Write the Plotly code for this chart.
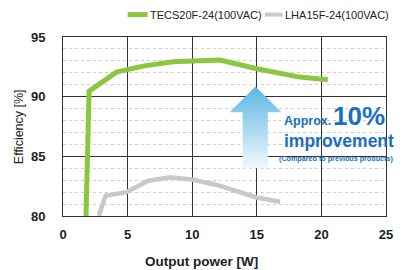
import plotly.graph_objects as go

# Data
tecs_x = [1.78, 2.02, 4.14, 6.2, 8.5, 12.15, 15.0, 18.3, 20.5]
tecs_y = [80.0, 90.46, 92.06, 92.56, 92.93, 93.07, 92.34, 91.64, 91.42]
lha_x = [2.77, 3.3, 4.9, 6.6, 8.3, 10.1, 11.9, 15.0, 16.8]
lha_y = [80.0, 81.7, 82.0, 82.96, 83.24, 83.04, 82.6, 81.55, 81.2]
series_names = ["TECS20F-24(100VAC)", "LHA15F-24(100VAC)"]
x_ticks = [0, 5, 10, 15, 20, 25]
y_ticks = [80, 85, 90, 95]

GREEN = "#8cc641"
GRAY = "#c8c8c8"
BLUE = "#1b6fc2"
CALLOUT_FONT = "Liberation Sans, Arial, sans-serif"

fig = go.Figure()

# decorative arrow (gradient)
arrow_x = [13.9, 13.9, 12.9, 14.9, 16.9, 15.85, 15.85, 13.9]
arrow_y = [84.0, 88.7, 88.7, 90.85, 88.7, 88.7, 84.0, 84.0]
fig.add_trace(go.Scatter(
    x=arrow_x, y=arrow_y, mode="lines", fill="toself", line=dict(width=0),
    fillgradient=dict(type="vertical",
                      colorscale=[[0, "#f2f9fd"], [1, "#5cb6e2"]]),
    hoverinfo="skip", showlegend=False))

fig.add_trace(go.Scatter(x=lha_x, y=lha_y, mode="lines",
                         line=dict(color=GRAY, width=4.5), name=series_names[1],
                         showlegend=False, cliponaxis=True))
fig.add_trace(go.Scatter(x=tecs_x, y=tecs_y, mode="lines",
                         line=dict(color=GREEN, width=5), name=series_names[0],
                         showlegend=False, cliponaxis=True))

fig.update_layout(
    width=405, height=270,
    margin=dict(l=63, r=19, t=37, b=54),
    paper_bgcolor="white", plot_bgcolor="white",
    showlegend=False,
    font=dict(family="Liberation Sans, Arial, sans-serif", color="#222"),
)
fig.update_xaxes(
    range=[0, 25], tickvals=x_ticks, ticktext=[str(v) for v in x_ticks],
    showgrid=True, gridcolor="#333", gridwidth=1,
    showline=True, linecolor="#333", linewidth=1, mirror=True,
    zeroline=False, ticks="", ticklabelstandoff=6,
    tickfont=dict(size=13, weight="bold", color="#222"),
)
fig.update_yaxes(
    range=[80, 95], tickvals=y_ticks, ticktext=[str(v) for v in y_ticks],
    showgrid=True, gridcolor="#333", gridwidth=1,
    showline=True, linecolor="#333", linewidth=1, mirror=True,
    zeroline=False, ticks="", ticklabelstandoff=14,
    tickfont=dict(size=13, weight="bold", color="#222"),
    minor=dict(dtick=1, showgrid=True, gridcolor="#cfcfcf", griddash="dot", gridwidth=1),
)

# axis titles
fig.add_annotation(text="Output power [W]", xref="paper", yref="paper",
                   x=0.43, y=-0.2, yanchor="top", showarrow=False,
                   font=dict(size=13.5, weight="bold", color="#222"))
fig.add_annotation(text="Efficiency [%]", xref="paper", yref="paper",
                   x=-0.165, y=0.5, textangle=-90, showarrow=False,
                   font=dict(size=12.5, color="#222"))

# legend (manual)
fig.add_shape(type="line", xref="paper", yref="paper", x0=0.2, x1=0.262, y0=1.125, y1=1.125,
              line=dict(color=GREEN, width=5))
fig.add_annotation(text=series_names[0], xref="paper", yref="paper", x=0.262, y=1.125,
                   xanchor="left", yanchor="middle", showarrow=False,
                   font=dict(size=11, color="#222"))
fig.add_shape(type="line", xref="paper", yref="paper", x0=0.625, x1=0.68, y0=1.125, y1=1.125,
              line=dict(color=GRAY, width=4))
fig.add_annotation(text=series_names[1], xref="paper", yref="paper", x=0.68, y=1.125,
                   xanchor="left", yanchor="middle", showarrow=False,
                   font=dict(size=11, color="#222"))

# callout text
def callout(text, x, y, size):
    fig.add_annotation(text=text, x=x, y=y, xanchor="left", yanchor="middle",
                       showarrow=False, borderpad=0,
                       font=dict(family=CALLOUT_FONT, size=size, weight="bold", color=BLUE))

callout("Approx.", 17.0, 87.95, 12.5)
callout("10%", 20.8, 88.35, 26)
callout("improvement", 17.0, 86.27, 17.5)
callout("(Compared to previous products)", 16.62, 84.8, 7.2)

fig.write_html("out.html")
